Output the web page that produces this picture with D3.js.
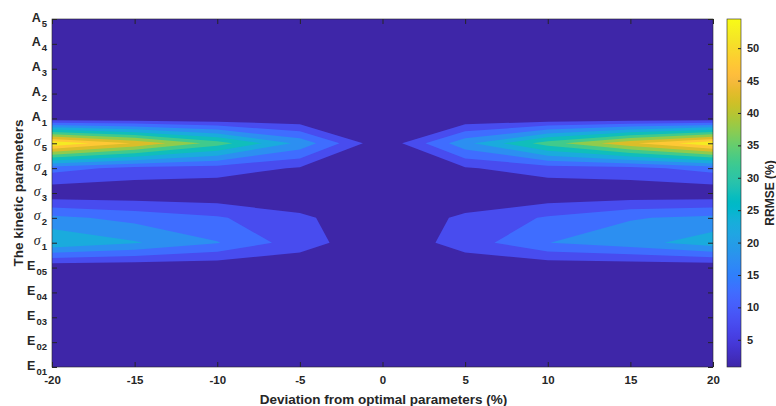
<!DOCTYPE html>
<html>
<head>
<meta charset="utf-8">
<script src="https://cdn.jsdelivr.net/npm/d3@7"></script>
<style>
body { margin: 0; background: #fff; }
svg text { font-family: 'Liberation Sans', Arial, sans-serif; fill: #262626; font-weight: bold; }
</style>
</head>
<body>
<script>
// DATA
const deviation = [-20, -15, -10, -5, 0, 5, 10, 15, 20];
const paramNames = ['E_01', 'E_02', 'E_03', 'E_04', 'E_05', 'σ_1', 'σ_2', 'σ_3', 'σ_4', 'σ_5', 'A_1', 'A_2', 'A_3', 'A_4', 'A_5'];

// RRMSE (%) for each parameter, one value per deviation step
const rrmseE01 = [0.9, 0.9, 0.9, 0.9, 0.8, 0.9, 0.9, 0.9, 0.9];
const rrmseE02 = [0.9, 0.9, 0.9, 0.9, 0.8, 0.9, 0.9, 0.9, 0.9];
const rrmseE03 = [0.9, 0.9, 0.9, 0.9, 0.8, 0.9, 0.9, 0.9, 0.9];
const rrmseE04 = [1.0, 1.0, 0.9, 0.9, 0.8, 0.9, 0.9, 1.0, 1.0];
const rrmseE05 = [0.8, 0.9, 0.9, 1.5, 0.8, 1.5, 0.9, 0.9, 0.8];
const rrmseS1 = [24.5, 20.5, 15.3, 7.3, 0.9, 7.3, 14.9, 17.9, 23.0];
const rrmseS2 = [16.3, 13.4, 10.6, 6.0, 0.9, 6.0, 10.6, 14.6, 16.2];
const rrmseS3 = [1.3, 1.2, 1.0, 0.9, 0.8, 0.9, 1.0, 1.2, 1.3];
const rrmseS4 = [12.0, 8.5, 7.5, 4.5, 0.9, 4.5, 7.5, 8.5, 12.0];
const rrmseS5 = [54.5, 44.5, 32.6, 18.5, 0.8, 18.5, 32.6, 44.0, 54.3];
const rrmseA1 = [0.9, 0.9, 0.9, 0.9, 0.8, 0.9, 0.9, 0.9, 0.9];
const rrmseA2 = [0.9, 0.9, 0.9, 0.9, 0.8, 0.9, 0.9, 0.9, 0.9];
const rrmseA3 = [0.9, 0.9, 0.9, 0.9, 0.8, 0.9, 0.9, 0.9, 0.9];
const rrmseA4 = [0.9, 0.9, 0.9, 0.9, 0.8, 0.9, 0.9, 0.9, 0.9];
const rrmseA5 = [0.9, 0.9, 0.9, 0.9, 0.8, 0.9, 0.9, 0.9, 0.9];

const contourLevels = [5, 10, 15, 20, 25, 30, 35, 40, 45, 50];
const colorbarTicks = [5, 10, 15, 20, 25, 30, 35, 40, 45, 50];

// parula colormap (64 rows)
const parula = [
  [0.2422,0.1504,0.6603],[0.2504,0.1650,0.7076],[0.2578,0.1818,0.7511],[0.2647,0.1978,0.7952],
  [0.2706,0.2147,0.8364],[0.2751,0.2342,0.8710],[0.2783,0.2559,0.8991],[0.2803,0.2782,0.9221],
  [0.2813,0.3006,0.9414],[0.2810,0.3228,0.9579],[0.2795,0.3447,0.9717],[0.2760,0.3667,0.9829],
  [0.2699,0.3892,0.9906],[0.2602,0.4123,0.9952],[0.2440,0.4358,0.9988],[0.2206,0.4603,0.9973],
  [0.1963,0.4847,0.9892],[0.1834,0.5074,0.9798],[0.1786,0.5289,0.9682],[0.1764,0.5499,0.9520],
  [0.1687,0.5703,0.9359],[0.1540,0.5902,0.9218],[0.1460,0.6091,0.9079],[0.1380,0.6276,0.8973],
  [0.1248,0.6459,0.8883],[0.1113,0.6635,0.8763],[0.0952,0.6798,0.8598],[0.0689,0.6948,0.8394],
  [0.0297,0.7082,0.8163],[0.0036,0.7203,0.7917],[0.0067,0.7312,0.7660],[0.0433,0.7411,0.7394],
  [0.0964,0.7500,0.7120],[0.1408,0.7584,0.6842],[0.1717,0.7670,0.6554],[0.1938,0.7758,0.6251],
  [0.2161,0.7843,0.5923],[0.2470,0.7918,0.5567],[0.2906,0.7973,0.5188],[0.3406,0.8008,0.4789],
  [0.3909,0.8029,0.4354],[0.4456,0.8024,0.3909],[0.5044,0.7993,0.3480],[0.5616,0.7942,0.3045],
  [0.6174,0.7876,0.2612],[0.6720,0.7793,0.2227],[0.7242,0.7698,0.1910],[0.7738,0.7598,0.1646],
  [0.8203,0.7498,0.1535],[0.8634,0.7406,0.1596],[0.9035,0.7330,0.1774],[0.9393,0.7288,0.2100],
  [0.9728,0.7298,0.2394],[0.9956,0.7434,0.2371],[0.9970,0.7659,0.2199],[0.9952,0.7893,0.2028],
  [0.9892,0.8136,0.1885],[0.9786,0.8386,0.1766],[0.9676,0.8639,0.1643],[0.9610,0.8890,0.1537],
  [0.9597,0.9135,0.1423],[0.9628,0.9373,0.1265],[0.9691,0.9606,0.1064],[0.9769,0.9839,0.0805]
].map(c => d3.rgb(c[0] * 255, c[1] * 255, c[2] * 255).formatHex());

// DEFS
const width = 776;
const height = 406;
const plot = {left: 52, right: 713, top: 19, bottom: 367};
const bar = {left: 727, width: 14};
const axisColor = '#262626';

const gridRows = [rrmseE01, rrmseE02, rrmseE03, rrmseE04, rrmseE05,
  rrmseS1, rrmseS2, rrmseS3, rrmseS4, rrmseS5,
  rrmseA1, rrmseA2, rrmseA3, rrmseA4, rrmseA5];
const nx = deviation.length;
const ny = gridRows.length;
const values = gridRows.flat();
const [zMin, zMax] = d3.extent(values);

const xScale = d3.scaleLinear().domain([deviation[0], deviation[nx - 1]]).range([plot.left, plot.right]);
const yScale = d3.scaleLinear().domain([0, ny - 1]).range([plot.bottom, plot.top]);
const barScale = d3.scaleLinear().domain([zMin, zMax]).range([plot.bottom, plot.top]);
const colorScale = d3.scaleLinear()
  .domain(parula.map((c, i) => zMin + (zMax - zMin) * i / (parula.length - 1)))
  .range(parula)
  .interpolate(d3.interpolateRgb)
  .clamp(true);

const svg = d3.select('body').append('svg').attr('width', width).attr('height', height);
const defs = svg.append('defs');
defs.append('clipPath').attr('id', 'plotClip')
  .append('rect')
    .attr('x', plot.left).attr('y', plot.top)
    .attr('width', plot.right - plot.left).attr('height', plot.bottom - plot.top);

// FILLED CONTOURS
const step = deviation[1] - deviation[0];
const toPlot = d3.geoTransform({
  point(cx, cy) {
    this.stream.point(xScale(deviation[0] + (cx - 0.5) * step), yScale(cy - 0.5));
  }
});
const contourPath = d3.geoPath(toPlot);
const bands = d3.contours().size([nx, ny]).thresholds(contourLevels)(values);

const contourGroup = svg.append('g').attr('clip-path', 'url(#plotClip)');
contourGroup.append('rect')
  .attr('x', plot.left).attr('y', plot.top)
  .attr('width', plot.right - plot.left).attr('height', plot.bottom - plot.top)
  .attr('fill', colorScale(zMin));
contourGroup.selectAll('path')
  .data(bands)
  .enter().append('path')
    .attr('d', contourPath)
    .attr('fill', (d, i) => {
      const upper = i < contourLevels.length - 1 ? contourLevels[i + 1] : zMax;
      return colorScale((d.value + upper) / 2);
    });

// AXES
const xAxisBottom = d3.axisBottom(xScale).tickValues(deviation).tickSizeInner(-5).tickSizeOuter(0).tickPadding(9)
  .tickFormat(d => String(d));
svg.append('g').attr('transform', `translate(0, ${plot.bottom})`).call(xAxisBottom)
  .call(g => g.select('.domain').remove())
  .call(g => g.selectAll('line').attr('stroke', axisColor))
  .call(g => g.selectAll('text').style('font-size', '11.5px').attr('fill', axisColor));
svg.append('g').attr('transform', `translate(0, ${plot.top})`)
  .call(d3.axisTop(xScale).tickValues(deviation).tickSizeInner(-5).tickSizeOuter(0).tickFormat(''))
  .call(g => g.select('.domain').remove())
  .call(g => g.selectAll('line').attr('stroke', axisColor));

const yAxisLeft = d3.axisLeft(yScale).tickValues(d3.range(ny)).tickSizeInner(-5).tickSizeOuter(0).tickFormat('');
const yAxisG = svg.append('g').attr('transform', `translate(${plot.left}, 0)`).call(yAxisLeft)
  .call(g => g.select('.domain').remove())
  .call(g => g.selectAll('line').attr('stroke', axisColor));
svg.append('g').attr('transform', `translate(${plot.right}, 0)`)
  .call(d3.axisRight(yScale).tickValues(d3.range(ny)).tickSizeInner(-5).tickSizeOuter(0).tickFormat(''))
  .call(g => g.select('.domain').remove())
  .call(g => g.selectAll('line').attr('stroke', axisColor));

// parameter labels with subscripts
yAxisG.selectAll('.tick').each(function(d) {
  const [base, sub] = paramNames[d].split('_');
  const label = d3.select(this).append('text')
    .attr('x', -5).attr('y', 2)
    .attr('text-anchor', 'end')
    .attr('fill', axisColor);
  const isGreek = base === 'σ';
  label.append('tspan')
    .style('font-family', isGreek ? "'Liberation Serif', 'DejaVu Serif', serif" : null)
    .style('font-style', isGreek ? 'italic' : null)
    .style('font-weight', isGreek ? 'normal' : 'bold')
    .style('font-size', isGreek ? '14px' : '12.5px')
    .text(base);
  label.append('tspan')
    .attr('dx', 1).attr('dy', 5)
    .style('font-size', '9.5px')
    .text(sub);
});

svg.append('rect')
  .attr('x', plot.left).attr('y', plot.top)
  .attr('width', plot.right - plot.left).attr('height', plot.bottom - plot.top)
  .attr('fill', 'none').attr('stroke', axisColor).attr('stroke-width', 0.6);

// AXIS TITLES
svg.append('text')
  .attr('x', (plot.left + plot.right) / 2 + 1).attr('y', 404)
  .attr('text-anchor', 'middle')
  .style('font-size', '13.5px')
  .text('Deviation from optimal parameters (%)');

svg.append('text')
  .attr('transform', `translate(23, ${(plot.top + plot.bottom) / 2}) rotate(-90)`)
  .attr('text-anchor', 'middle')
  .style('font-size', '13.5px')
  .text('The kinetic parameters');

// COLORBAR
const gradient = defs.append('linearGradient').attr('id', 'parulaGrad')
  .attr('x1', 0).attr('y1', 1).attr('x2', 0).attr('y2', 0);
gradient.selectAll('stop')
  .data(parula)
  .enter().append('stop')
    .attr('offset', (d, i) => i / (parula.length - 1))
    .attr('stop-color', d => d);

svg.append('rect')
  .attr('x', bar.left).attr('y', plot.top)
  .attr('width', bar.width).attr('height', plot.bottom - plot.top)
  .attr('fill', 'url(#parulaGrad)')
  .attr('stroke', axisColor).attr('stroke-width', 0.6);

svg.append('g').attr('transform', `translate(${bar.left + bar.width}, 0)`)
  .call(d3.axisRight(barScale).tickValues(colorbarTicks).tickSizeInner(-3).tickSizeOuter(0).tickPadding(6)
    .tickFormat(d => String(d)))
  .call(g => g.select('.domain').remove())
  .call(g => g.selectAll('line').attr('stroke', axisColor))
  .call(g => g.selectAll('text').style('font-size', '11px').attr('fill', axisColor));

svg.append('text')
  .attr('transform', `translate(774, ${(plot.top + plot.bottom) / 2}) rotate(-90)`)
  .attr('text-anchor', 'middle')
  .style('font-size', '12px')
  .text('RRMSE (%)');
</script>
</body>
</html>
